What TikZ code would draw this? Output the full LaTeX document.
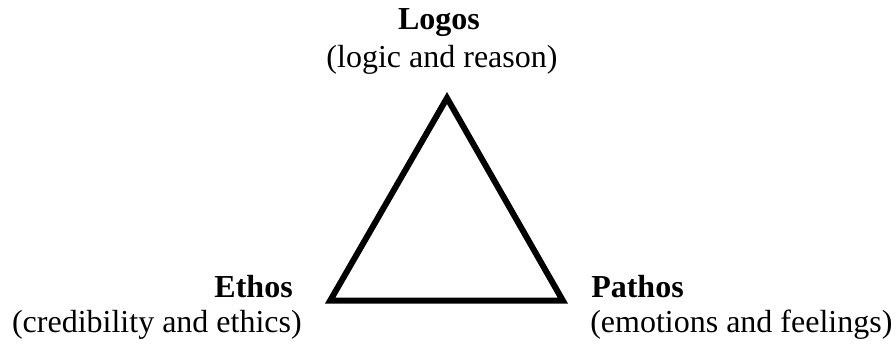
\documentclass[tikz,border=0pt]{standalone}
\usepackage{fontspec}
\setmainfont{Liberation Serif}
\usetikzlibrary{positioning}

\begin{document}
\begin{tikzpicture}[x=0.75pt,y=-0.75pt, every node/.style={font=\fontsize{24}{28.8}\selectfont, inner sep=0pt}]
\useasboundingbox (0,0) rectangle (896,343);
% triangle corners
\coordinate (apex) at (447,98);
\coordinate (ethoscorner) at (330.2,300.5);
\coordinate (pathoscorner) at (562.8,300.5);
\draw[line width=4.5pt, line join=miter] (apex) -- (ethoscorner) -- (pathoscorner) -- cycle;
% labels
\node[anchor=base, font=\fontsize{24}{28.8}\selectfont\bfseries] (logos) at (439,29) {Logos};
\node[anchor=base] (logosnote) at (442,67) {(logic and reason)};
\node[anchor=base east, font=\fontsize{24}{28.8}\selectfont\bfseries] (ethos) at (293,297) {Ethos};
\node[anchor=base east] (ethosnote) at (302,332) {(credibility and ethics)};
\node[anchor=base west, font=\fontsize{24}{28.8}\selectfont\bfseries] (pathos) at (591,297) {Pathos};
\node[anchor=base west] (pathosnote) at (590,332) {(emotions and feelings)};
\end{tikzpicture}
\end{document}
